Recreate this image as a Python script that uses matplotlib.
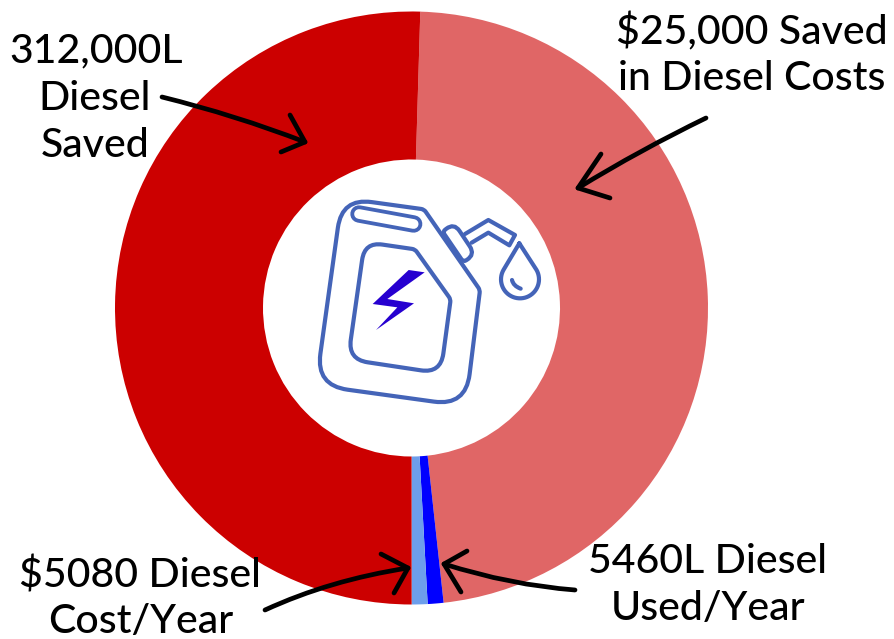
import matplotlib
matplotlib.use('Agg')
import matplotlib.pyplot as plt
from matplotlib.path import Path
from matplotlib.patches import PathPatch
import numpy as np

# slice shares in percent, clockwise from the top
slice_names = ['Saved in Diesel Costs', 'Diesel Used/Year', 'Diesel Cost/Year', 'Diesel Saved']
slice_values = [47.8, 0.86, 0.86, 50.48]
slice_colors = ['#e06666', '#0000ff', '#6d9eeb', '#cc0000']

labels = [
    ('312,000L', 96, 62), ('Diesel', 95, 110), ('Saved', 95, 157),
    ('$25,000 Saved', 752, 44), ('in Diesel Costs', 752, 90),
    ('$5080 Diesel', 140, 587), ('Cost/Year', 141, 633),
    ('5460L Diesel', 707, 573), ('Used/Year', 708, 620),
]

ICON = '#4464b8'
BOLT = '#2600d0'


def icon_xy(pts):
    pts = np.array(pts, dtype=float)
    return np.column_stack([300 + pts[:, 0] / 3, 180 + pts[:, 1] / 3])


def rounded(pts, radii):
    # closed polygon with quadratic rounded corners
    pts = icon_xy(pts)
    n = len(pts)
    verts, codes = [], []
    for i in range(n):
        p, a, b = pts[i], pts[i - 1], pts[(i + 1) % n]
        r = radii[i]
        p1 = p + (a - p) / np.linalg.norm(a - p) * r
        p2 = p + (b - p) / np.linalg.norm(b - p) * r
        verts += [p1, p, p2]
        codes += [Path.LINETO if i else Path.MOVETO, Path.CURVE3, Path.CURVE3]
    verts.append(verts[0])
    codes.append(Path.CLOSEPOLY)
    return Path(verts, codes)


def stroke(ax, path, color=ICON, lw=3.0, fill='none'):
    ax.add_patch(PathPatch(path, fc=fill, ec=color, lw=lw, capstyle='round', joinstyle='round', zorder=5))


fig = plt.figure(figsize=(8.94, 6.39), dpi=100)
ax = fig.add_axes([0, 0, 1, 1])
ax.set_xlim(0, 894)
ax.set_ylim(639, 0)
ax.axis('off')

# y axis is flipped so the pie runs the other way round here
ax.pie(slice_values, colors=slice_colors, center=(411.5, 308), radius=296.5, startangle=-88.3,
       counterclock=True, wedgeprops=dict(width=148, linewidth=0), frame=False)
ax.set_xlim(0, 894)
ax.set_ylim(639, 0)
ax.set_aspect('auto')

# jerry can
stroke(ax, rounded([(126, 54), (372, 88), (540, 330), (497, 678), (48, 616)], [30, 3, 3, 32, 32]))
# handle slot, a fat line with a white core
slot = icon_xy([(177, 102), (341, 132)])
ax.plot(slot[:, 0], slot[:, 1], color=ICON, lw=12.5, solid_capstyle='round', zorder=5)
ax.plot(slot[:, 0], slot[:, 1], color='white', lw=7, solid_capstyle='round', zorder=5)
stroke(ax, rounded([(194, 186), (345, 208), (452, 358), (422, 580), (144, 538)], [18, 3, 3, 20, 20]))
stroke(ax, rounded([(428, 155), (462, 128), (526, 224), (490, 246)], [3, 10, 10, 3]))
stroke(ax, Path(icon_xy([(495, 162), (565, 120), (645, 165), (628, 196), (565, 158), (515, 188)])))

# drop
t = np.radians(np.linspace(-30, 210, 40))
drop = [(658, 190)] + [(660 + 57 * np.cos(a), 298 + 57 * np.sin(a)) for a in t] + [(658, 190)]
stroke(ax, Path(icon_xy(drop)))
stroke(ax, Path(icon_xy([(636, 300), (640, 318), (662, 326)]), [Path.MOVETO, Path.CURVE3, Path.CURVE3]))

# bolt
bolt = icon_xy([(326, 270), (374, 277), (262, 357), (342, 370), (228, 450), (292, 382), (218, 372)])
ax.fill(bolt[:, 0], bolt[:, 1], color=BOLT, lw=0, zorder=5)

# hand drawn arrows
arrows = [
    [[(162, 97), (235, 115), (305, 142)], [(290, 115), (305, 142), (281, 152)]],
    [[(706, 118), (640, 150), (578, 188)], [(610, 198), (578, 188), (601, 154)]],
    [[(265, 610), (330, 580), (408, 568)], [(381, 554), (408, 568), (394, 593)]],
    [[(575, 590), (510, 585), (444, 564)], [(467, 551), (444, 564), (461, 592)]],
]
for shaft, head in arrows:
    stroke(ax, Path(shaft, [Path.MOVETO, Path.CURVE3, Path.CURVE3]), color='black', lw=3.4)
    stroke(ax, Path(head), color='black', lw=3.4)

for txt, x, y in labels:
    ax.text(x, y, txt, ha='center', va='baseline', fontsize=29.5, family='Lato', weight='medium',
            color='black', zorder=6)

fig.savefig('out.png', dpi=100)
